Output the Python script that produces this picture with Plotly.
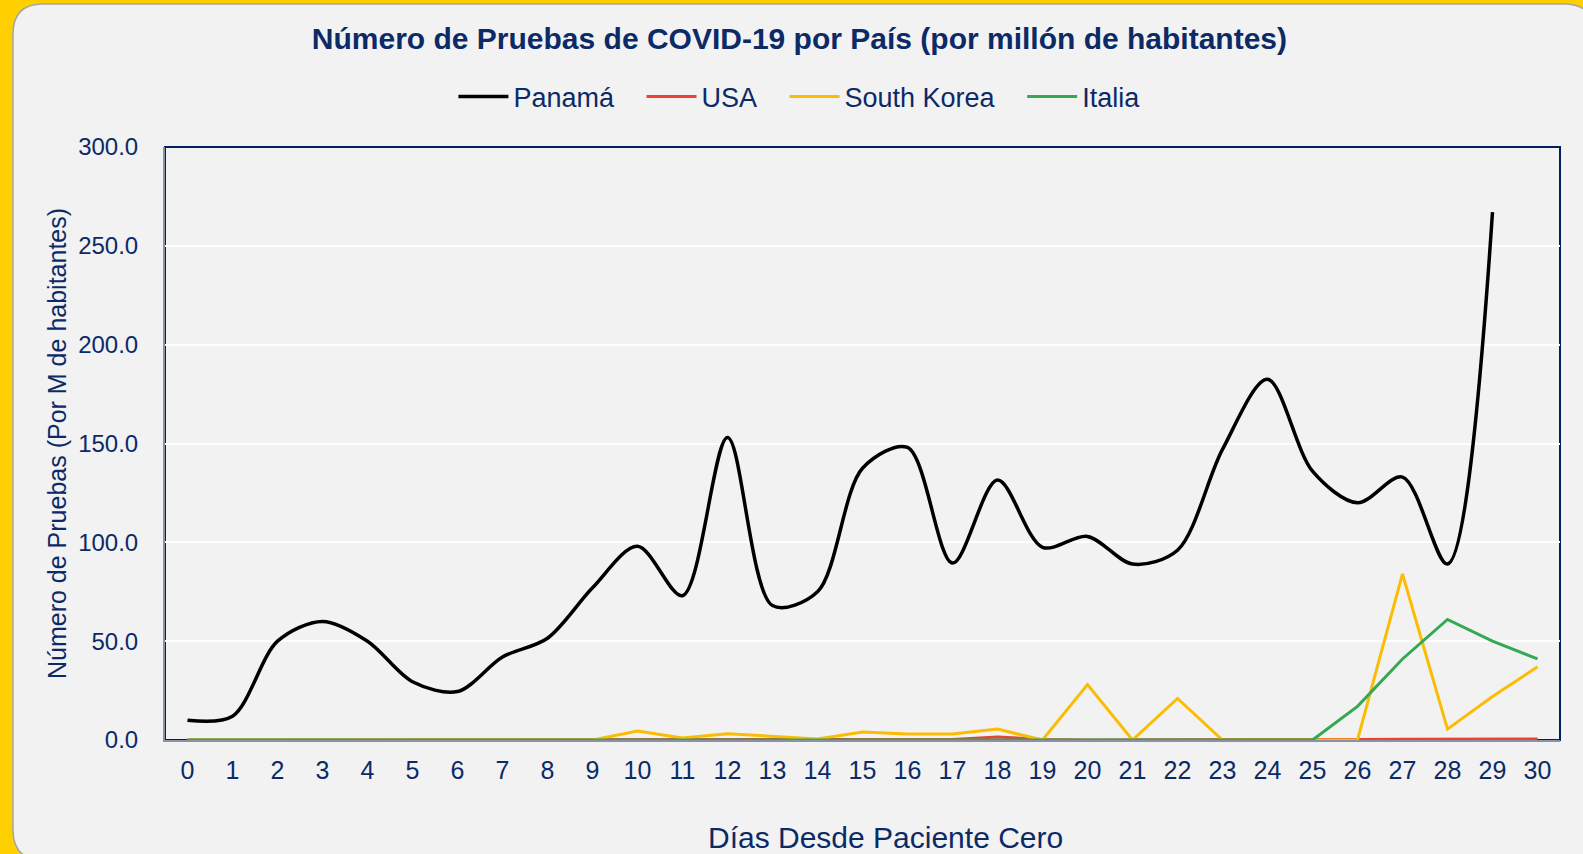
import plotly.graph_objects as go

dias = list(range(31))

panama = [10, 12, 50, 60, 50, 29.5, 24.5, 42, 51.5, 77, 98, 73, 153, 68, 75, 137.5, 148,
          89.5, 131.5, 97.5, 103, 89, 96, 147, 182.5, 136, 120, 133, 89, 267, None]
usa = [0, 0, 0, 0, 0, 0, 0, 0, 0, 0, 0, 0, 0, 0, 0, 0, 0, 0.3, 1.5, 0.3, 0, 0, 0, 0, 0, 0,
       0.3, 0.4, 0.4, 0.5, 0.5]
south_korea = [0, 0, 0, 0, 0, 0, 0, 0, 0, 0, 4.5, 1, 3.2, 2, 0.5, 4, 3, 3, 5.5, 0, 28, 0,
               21, 0, 0, 0, 0, 84, 5.5, 22, 37]
italia = [0, 0, 0, 0, 0, 0, 0, 0, 0, 0, 0, 0, 0, 0, 0, 0, 0, 0, 0, 0, 0, 0, 0, 0, 0, 0,
          17, 41, 61, 50, 41]

navy = "#0B2A66"
font_name = "Liberation Sans, Arial, sans-serif"

W, H = 1583, 854
ml, mr, mt, mb = 165, 23, 147, 114
pw, ph = W - ml - mr, H - mt - mb


def px(x):
    return (x - ml) / pw


def py(y):
    return (H - mb - y) / ph


def rounded_panel(x0, y0, x1, y1, r):
    pts = [
        "M {} {}".format(px(x0 + r), py(y0)),
        "L {} {}".format(px(x1 - r), py(y0)),
        "Q {} {} {} {}".format(px(x1), py(y0), px(x1), py(y0 + r)),
        "L {} {}".format(px(x1), py(y1 - r)),
        "Q {} {} {} {}".format(px(x1), py(y1), px(x1 - r), py(y1)),
        "L {} {}".format(px(x0 + r), py(y1)),
        "Q {} {} {} {}".format(px(x0), py(y1), px(x0), py(y1 - r)),
        "L {} {}".format(px(x0), py(y0 + r)),
        "Q {} {} {} {}".format(px(x0), py(y0), px(x0 + r), py(y0)),
        "Z",
    ]
    return " ".join(pts)


pad = "\u00a0" * 3

fig = go.Figure()
fig.add_trace(go.Scatter(x=dias, y=panama, name="Panamá" + pad, mode="lines",
                         line=dict(color="#000000", width=3.5, shape="spline", smoothing=0.9)))
fig.add_trace(go.Scatter(x=dias, y=usa, name="USA" + pad, mode="lines",
                         line=dict(color="#EA4335", width=3)))
fig.add_trace(go.Scatter(x=dias, y=south_korea, name="South Korea" + pad, mode="lines",
                         line=dict(color="#FBBC04", width=3)))
fig.add_trace(go.Scatter(x=dias, y=italia, name="Italia", mode="lines",
                         line=dict(color="#34A853", width=3)))

fig.update_layout(
    width=W, height=H,
    margin=dict(l=ml, r=mr, t=mt, b=mb),
    paper_bgcolor="#FFD000",
    plot_bgcolor="#F2F2F2",
    font=dict(family=font_name, color=navy),
    title=dict(text="<b>Número de Pruebas de COVID-19 por País (por millón de habitantes)</b>",
               x=0.505, xref="container", xanchor="center",
               y=1 - 38 / H, yref="container", yanchor="middle",
               font=dict(size=30, color=navy)),
    legend=dict(orientation="h", x=0.505, xref="container", xanchor="center",
                y=1 - 97 / H, yref="container", yanchor="middle",
                font=dict(size=27, color=navy), bgcolor="rgba(0,0,0,0)",
                itemwidth=50, tracegroupgap=0),
    showlegend=True,
)

fig.update_xaxes(range=[-0.5, 30.5], tickmode="array", tickvals=dias,
                 ticktext=[str(d) for d in dias], showgrid=False, zeroline=False,
                 showline=True, linecolor="#8A93A6", linewidth=2,
                 ticks="", ticklabelstandoff=7, tickfont=dict(size=25, color=navy))
fig.update_yaxes(range=[0, 300], dtick=50, tickformat=".1f", showgrid=True,
                 gridcolor="#FFFFFF", gridwidth=1.5, zeroline=False,
                 showline=True, linecolor="#8A93A6", linewidth=2,
                 ticks="", ticklabelstandoff=20, tickfont=dict(size=24, color=navy))

# panel and plot border
fig.add_shape(type="path", xref="paper", yref="paper", layer="below",
              path=rounded_panel(13, 4, 1594, 860, 30),
              fillcolor="#F2F2F2", line=dict(color="#A6A6A6", width=1.5))
fig.add_shape(type="rect", xref="paper", yref="paper", layer="below",
              x0=0, y0=0, x1=1, y1=1, line=dict(color="#002060", width=2))

fig.add_annotation(text="Días Desde Paciente Cero", xref="paper", yref="paper",
                   x=px(885), y=py(837), showarrow=False,
                   font=dict(size=30, color=navy), xanchor="center", yanchor="middle")
fig.add_annotation(text="Número de Pruebas (Por M de habitantes)", xref="paper", yref="paper",
                   x=px(57), y=py(444), showarrow=False, textangle=-90,
                   font=dict(size=25, color=navy), xanchor="center", yanchor="middle")

# the page body has a default 8px margin; drop it so the figure fills the window
fig.write_html("out.html", config={"displayModeBar": False},
               post_script="document.body.style.margin='0';")
